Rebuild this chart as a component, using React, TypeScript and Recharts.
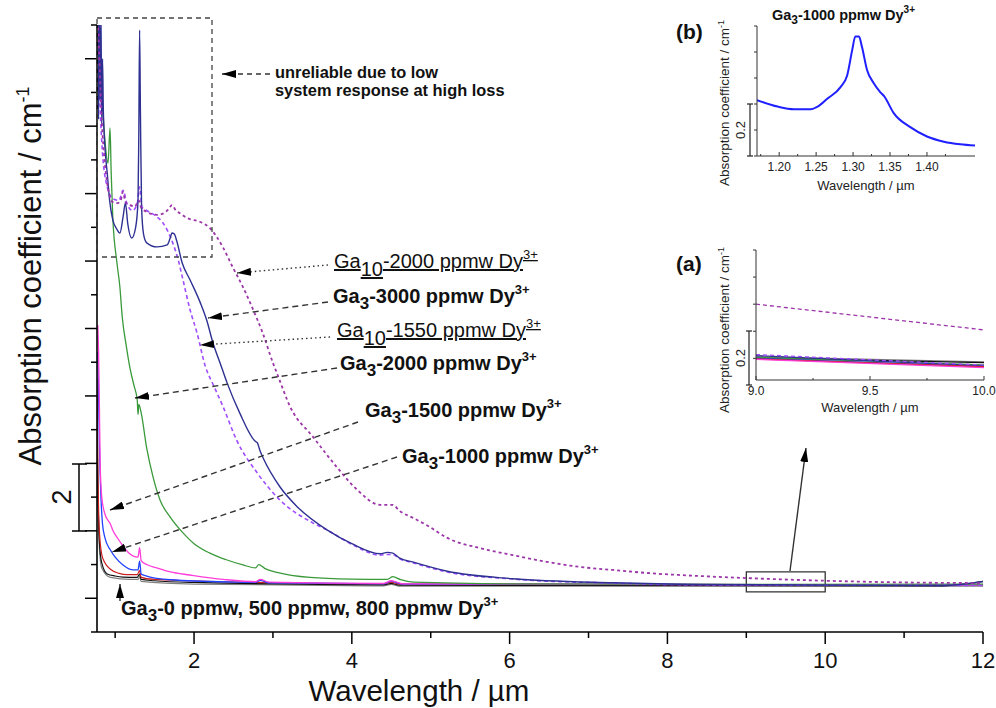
import React from 'react';
import { LineChart, Line, XAxis, YAxis, ReferenceArea } from 'recharts';

type P = [number, number];

const FONT = "'Liberation Sans', Arial, sans-serif";

// main plot: wavelength (µm) vs absorption (cm-1, offset, unlabeled)
const xTicksMain = [1, 2, 3, 4, 5, 6, 7, 8, 9, 10, 11, 12];
const yTicksMain = [-1, 0, 1, 2, 3, 4, 5, 6, 7, 8, 9, 10, 11, 12, 13, 14, 15, 16, 17];

const ga10_2000: P[] = [[0.77, 18], [0.8, 16], [0.83, 14.2], [0.87, 12.9], [0.9, 12.3], [0.94, 11.85], [0.97, 11.75], [1.03, 11.72], [1.07, 11.8], [1.1, 12.05], [1.13, 11.75], [1.19, 11.66], [1.25, 11.62], [1.3, 11.8], [1.33, 11.58], [1.4, 11.46], [1.53, 11.37], [1.62, 11.42], [1.68, 11.55], [1.72, 11.66], [1.77, 11.5], [1.82, 11.42], [1.91, 11.28], [2.08, 11.16], [2.2, 10.98], [2.29, 10.71], [2.37, 10.39], [2.49, 9.82], [2.62, 9.23], [2.75, 8.55], [2.87, 7.87], [3.0, 6.98], [3.05, 6.68], [3.22, 5.67], [3.51, 4.78], [3.81, 3.89], [4.07, 3.21], [4.36, 2.77], [4.52, 2.77], [4.6, 2.6], [4.78, 2.38], [4.99, 2.11], [5.21, 1.79], [5.62, 1.49], [6.04, 1.28], [6.47, 1.08], [6.89, 0.93], [7.31, 0.84], [7.74, 0.75], [8.41, 0.66], [9.0, 0.6], [10.0, 0.52], [11.0, 0.47], [12.0, 0.45]];
const ga10_1550: P[] = [[0.77, 18], [0.8, 15.2], [0.84, 13.2], [0.9, 12.2], [0.97, 11.85], [1.05, 11.8], [1.1, 12.1], [1.15, 11.7], [1.22, 11.5], [1.28, 11.7], [1.31, 12.2], [1.34, 11.6], [1.4, 11.5], [1.53, 11.31], [1.6, 11.15], [1.66, 10.92], [1.73, 10.54], [1.8, 10.03], [1.86, 9.44], [1.95, 8.55], [2.04, 7.85], [2.14, 6.9], [2.25, 6.3], [2.37, 5.67], [2.54, 4.69], [2.8, 3.72], [3.09, 2.91], [3.51, 2.23], [3.69, 2.02], [4.0, 1.6], [4.36, 1.28], [4.45, 1.3], [4.52, 1.3], [4.6, 1.18], [4.78, 1.05], [5.21, 0.78], [6.04, 0.57], [7.31, 0.45], [8.41, 0.4], [12, 0.38]];
const ga3_3000: P[] = [[0.77, 17.5], [0.775, 14.5], [0.78, 17.6], [0.79, 14.2], [0.8, 17.2], [0.81, 14.8], [0.82, 17.5], [0.83, 14], [0.84, 16], [0.85, 14.5], [0.87, 13.4], [0.9, 12.6], [0.93, 11.8], [0.97, 11.22], [1.02, 10.95], [1.06, 10.83], [1.1, 11.3], [1.13, 11.72], [1.16, 11.1], [1.21, 10.68], [1.26, 11.0], [1.29, 11.8], [1.3, 13.8], [1.31, 16.85], [1.32, 14.5], [1.335, 11.6], [1.36, 10.8], [1.4, 10.54], [1.53, 10.42], [1.66, 10.48], [1.7, 10.7], [1.72, 10.83], [1.75, 10.8], [1.78, 10.6], [1.85, 9.94], [1.95, 9.44], [2.08, 8.76], [2.16, 8.25], [2.24, 7.57], [2.33, 6.98], [2.42, 6.38], [2.58, 5.49], [2.78, 4.65], [2.8, 4.62], [2.84, 4.35], [2.87, 4.19], [3.09, 3.3], [3.31, 2.71], [3.69, 2.02], [4.0, 1.62], [4.36, 1.32], [4.45, 1.36], [4.52, 1.34], [4.6, 1.2], [4.78, 1.07], [5.21, 0.8], [6.04, 0.58], [7.31, 0.46], [8.41, 0.41], [11.5, 0.38], [12, 0.5]];
const ga3_2000: P[] = [[0.77, 18], [0.82, 15.5], [0.87, 13.6], [0.91, 12.9], [0.935, 13.95], [0.95, 12.6], [0.97, 11.3], [1.02, 10.0], [1.06, 9.23], [1.09, 8.34], [1.14, 7.5], [1.19, 6.8], [1.24, 6.3], [1.28, 5.88], [1.29, 5.45], [1.3, 5.75], [1.33, 5.5], [1.4, 4.45], [1.48, 3.6], [1.57, 2.91], [1.7, 2.4], [1.86, 1.94], [2.0, 1.62], [2.2, 1.34], [2.4, 1.15], [2.62, 0.99], [2.78, 0.9], [2.82, 1.0], [2.9, 0.88], [3.05, 0.77], [3.47, 0.62], [4.0, 0.57], [4.45, 0.56], [4.52, 0.64], [4.62, 0.55], [4.78, 0.48], [6, 0.43], [9, 0.41], [12, 0.42]];
const ga3_1500: P[] = [[0.78, 8.1], [0.79, 7.3], [0.8, 5.8], [0.81, 4.0], [0.83, 3.0], [0.87, 2.5], [0.94, 2.2], [0.97, 2.02], [1.04, 1.75], [1.1, 1.55], [1.17, 1.35], [1.23, 1.25], [1.29, 1.22], [1.31, 1.5], [1.33, 1.12], [1.4, 1.0], [1.53, 0.9], [1.7, 0.78], [1.95, 0.69], [2.37, 0.56], [2.78, 0.49], [2.84, 0.56], [2.95, 0.48], [4.4, 0.44], [4.5, 0.52], [4.65, 0.43], [12, 0.4]];
const ga3_1000: P[] = [[0.78, 7.3], [0.79, 6.0], [0.8, 4.6], [0.82, 3.0], [0.84, 2.2], [0.87, 1.8], [0.94, 1.43], [1.0, 1.22], [1.1, 0.99], [1.23, 0.84], [1.29, 0.84], [1.31, 1.1], [1.33, 0.72], [1.4, 0.66], [1.7, 0.55], [2.5, 0.48], [2.78, 0.47], [2.84, 0.53], [2.95, 0.46], [4.4, 0.43], [4.5, 0.5], [4.65, 0.42], [12, 0.4]];
const ga3_800: P[] = [[0.77, 6.5], [0.78, 4.0], [0.8, 2.0], [0.83, 1.3], [0.87, 1.05], [0.94, 0.86], [1.05, 0.74], [1.15, 0.7], [1.28, 0.7], [1.31, 0.82], [1.33, 0.62], [1.5, 0.56], [1.95, 0.52], [4.4, 0.43], [4.5, 0.47], [4.6, 0.42], [12, 0.4]];
const ga3_500: P[] = [[0.77, 6.0], [0.78, 3.5], [0.8, 1.7], [0.83, 1.05], [0.9, 0.72], [1.0, 0.66], [1.1, 0.63], [1.28, 0.62], [1.31, 0.72], [1.33, 0.56], [1.5, 0.52], [2.0, 0.47], [4.4, 0.4], [4.5, 0.44], [4.6, 0.39], [11.5, 0.37], [12, 0.5]];
const ga3_0: P[] = [[0.77, 5.5], [0.78, 3.0], [0.8, 1.5], [0.83, 0.9], [0.94, 0.62], [1.19, 0.56], [1.29, 0.56], [1.31, 0.64], [1.33, 0.5], [2.0, 0.42], [4.4, 0.37], [4.5, 0.41], [4.6, 0.36], [12, 0.36]];

// inset (a): 9-10 µm zoom
const xTicksA = [9.0, 9.25, 9.5, 9.75, 10.0];
const yTicksA = [0.08, 0.18, 0.28, 0.38, 0.48];
const a_ga10_2000: P[] = [[9.0, 0.28], [10.0, 0.185]];
const a_ga10_1550: P[] = [[9.0, 0.094], [10.0, 0.055]];
const a_ga3_3000: P[] = [[9.0, 0.09], [10.0, 0.052]];
const a_ga3_2000: P[] = [[9.0, 0.083], [10.0, 0.056]];
const a_ga3_1500: P[] = [[9.0, 0.076], [10.0, 0.046]];
const a_ga3_1000: P[] = [[9.0, 0.08], [10.0, 0.05]];
const a_ga3_800: P[] = [[9.0, 0.078], [10.0, 0.049]];
const a_ga3_500: P[] = [[9.0, 0.081], [10.0, 0.064]];
const a_ga3_0: P[] = [[9.0, 0.086], [10.0, 0.067]];

// inset (b): Ga3-1000 around 1.3 µm
const xTicksB = [1.175, 1.2, 1.225, 1.25, 1.275, 1.3, 1.325, 1.35, 1.375, 1.4, 1.425];
const yTicksB = [0, 0.1, 0.2, 0.3, 0.4, 0.5];
const b_ga3_1000: P[] = [[1.17, 0.215], [1.198, 0.19], [1.22, 0.18], [1.243, 0.18], [1.252, 0.19], [1.265, 0.22], [1.283, 0.265], [1.292, 0.31], [1.299, 0.41], [1.303, 0.46], [1.308, 0.46], [1.312, 0.42], [1.319, 0.33], [1.328, 0.28], [1.337, 0.245], [1.342, 0.23], [1.355, 0.165], [1.378, 0.11], [1.4, 0.075], [1.423, 0.055], [1.445, 0.045], [1.465, 0.04]];

const C = {
  purple: '#9c35a8',
  violet: '#a04dff',
  navy: '#2e3192',
  green: '#3a9a3a',
  magenta: '#ff3ddb',
  blue: '#2244ff',
  red: '#cc1f1f',
  black: '#111111',
  gray: '#808080',
};

const pts = (a: P[]) => a.map(([x, y]) => ({ x, y }));

const mainSeries = [
  { name: 'Ga3-0', data: ga3_0, color: C.gray, dash: undefined, w: 1.2 },
  { name: 'Ga3-500', data: ga3_500, color: C.black, dash: undefined, w: 1.2 },
  { name: 'Ga3-800', data: ga3_800, color: C.red, dash: undefined, w: 1.2 },
  { name: 'Ga3-1000', data: ga3_1000, color: C.blue, dash: undefined, w: 1.3 },
  { name: 'Ga3-1500', data: ga3_1500, color: C.magenta, dash: undefined, w: 1.3 },
  { name: 'Ga3-2000', data: ga3_2000, color: C.green, dash: undefined, w: 1.3 },
  { name: 'Ga10-1550', data: ga10_1550, color: C.violet, dash: '4 3', w: 1.6 },
  { name: 'Ga3-3000', data: ga3_3000, color: C.navy, dash: undefined, w: 1.4 },
  { name: 'Ga10-2000', data: ga10_2000, color: C.purple, dash: '3 3', w: 1.8 },
];

const aSeries = [
  { data: a_ga3_0, color: C.gray, dash: undefined },
  { data: a_ga3_500, color: C.black, dash: undefined },
  { data: a_ga3_2000, color: C.green, dash: undefined },
  { data: a_ga3_3000, color: C.navy, dash: undefined },
  { data: a_ga10_1550, color: C.violet, dash: '4 3' },
  { data: a_ga3_1000, color: C.blue, dash: undefined },
  { data: a_ga3_800, color: C.red, dash: undefined },
  { data: a_ga3_1500, color: C.magenta, dash: undefined },
  { data: a_ga10_2000, color: C.purple, dash: '4 3' },
];

const MainXTick = (p: any) => {
  const v = p.payload.value;
  const major = v % 2 === 0;
  return (
    <g>
      <line x1={p.x} y1={p.y} x2={p.x} y2={p.y + (major ? 12 : 6)} stroke="#000" strokeWidth={1.5} />
      {major && <text x={p.x} y={p.y + 36} textAnchor="middle" fontSize={22} fontFamily={FONT} fill="#111">{v}</text>}
    </g>
  );
};

const MainYTick = (p: any) => {
  const major = p.payload.value % 2 === 0;
  return <line x1={p.x} y1={p.y} x2={p.x - (major ? 12 : 6)} y2={p.y} stroke="#000" strokeWidth={1.5} />;
};

const insetXTick = (step: number, digits: number) => (p: any) => {
  const v = p.payload.value;
  const major = Math.abs(v / step - Math.round(v / step)) < 1e-6;
  return (
    <g>
      <line x1={p.x} y1={p.y} x2={p.x} y2={p.y - (major ? 4 : 2)} stroke="#333" strokeWidth={1} />
      {major && <text x={p.x} y={p.y + 15} textAnchor="middle" fontSize={12} fontFamily={FONT} fill="#222">{v.toFixed(digits)}</text>}
    </g>
  );
};

const InsetYTick = (p: any) => <line x1={p.x} y1={p.y} x2={p.x - 3} y2={p.y} stroke="#333" strokeWidth={1} />;

const GaLabel = ({ x, y, sub, body, bold, underline }: any) => (
  <text x={x} y={y} fontSize={20} fontWeight={bold ? 700 : 400} fontFamily={FONT} fill="#111" textDecoration={underline ? 'underline' : undefined}>
    Ga<tspan dy={underline ? 8 : 6} fontSize={underline ? 20 : 17}>{sub}</tspan>
    <tspan dy={underline ? -8 : -6}>{body} Dy</tspan>
    <tspan dy={-9} fontSize={13}>3+</tspan>
  </text>
);

const Arrow = ({ x1, y1, x2, y2, dash }: any) => (
  <line x1={x1} y1={y1} x2={x2} y2={y2} stroke="#333" strokeWidth={1.4} strokeDasharray={dash} markerEnd="url(#ah)" />
);

export default function App() {
  return (
    <div style={{ position: 'absolute', left: 0, top: 0, width: 996, height: 708, background: '#fff', fontFamily: FONT }}>
      <div style={{ position: 'absolute', left: 0, top: 0 }}>
        <LineChart width={996} height={708} margin={{ top: 25, right: 13, bottom: 36, left: 57 }}>
          <XAxis dataKey="x" type="number" domain={[0.77, 12]} ticks={xTicksMain} interval={0} allowDataOverflow
            tickSize={0} tickMargin={0} tickLine={false} axisLine={{ stroke: '#000', strokeWidth: 1.6 }} tick={MainXTick} height={40} />
          <YAxis type="number" domain={[-1, 17]} ticks={yTicksMain} interval={0} allowDataOverflow width={40}
            tickSize={0} tickMargin={0} tickLine={false} axisLine={{ stroke: '#000', strokeWidth: 1.6 }} tick={MainYTick} />
          <ReferenceArea x1={9} x2={10} y1={0.19} y2={0.78} fill="none" stroke="#333" strokeWidth={1.3} />
          {mainSeries.map(s => (
            <Line key={s.name} data={pts(s.data)} dataKey="y" type="monotone" stroke={s.color} strokeWidth={s.w}
              strokeDasharray={s.dash} dot={false} activeDot={false} isAnimationActive={false} />
          ))}
        </LineChart>
      </div>

      {/* inset (b) */}
      <div style={{ position: 'absolute', left: 700, top: 0 }}>
        <LineChart width={290} height={200} margin={{ top: 26, right: 15, bottom: 14, left: 0 }}>
          <XAxis dataKey="x" type="number" domain={[1.17, 1.465]} ticks={xTicksB} interval={0} allowDataOverflow
            tickSize={0} tickMargin={0} tickLine={false} axisLine={{ stroke: '#333' }} tick={insetXTick(0.05, 2)} height={30} />
          <YAxis type="number" domain={[0, 0.5]} ticks={yTicksB} interval={0} width={57}
            tickSize={0} tickMargin={0} tickLine={false} axisLine={{ stroke: '#333' }} tick={InsetYTick} />
          <Line data={pts(b_ga3_1000)} dataKey="y" type="monotone" stroke="#1f1fff" strokeWidth={2} dot={false} activeDot={false} isAnimationActive={false} />
        </LineChart>
      </div>

      {/* inset (a) */}
      <div style={{ position: 'absolute', left: 700, top: 230 }}>
        <LineChart width={296} height={200} margin={{ top: 20, right: 12, bottom: 20, left: 0 }}>
          <XAxis dataKey="x" type="number" domain={[9, 10]} ticks={xTicksA} interval={0} allowDataOverflow
            tickSize={0} tickMargin={0} tickLine={false} axisLine={{ stroke: '#333' }} tick={insetXTick(0.5, 1)} height={30} />
          <YAxis type="number" domain={[0, 0.48]} ticks={yTicksA} interval={0} width={56}
            tickSize={0} tickMargin={0} tickLine={false} axisLine={{ stroke: '#333' }} tick={InsetYTick} />
          {aSeries.map((s, i) => (
            <Line key={i} data={pts(s.data)} dataKey="y" type="linear" stroke={s.color} strokeWidth={1.3}
              strokeDasharray={s.dash} dot={false} activeDot={false} isAnimationActive={false} />
          ))}
        </LineChart>
      </div>

      <svg width={996} height={708} style={{ position: 'absolute', left: 0, top: 0, pointerEvents: 'none' }}>
        <defs>
          <marker id="ah" viewBox="0 0 14 8" refX="14" refY="4" markerWidth="14" markerHeight="8" orient="auto" markerUnits="userSpaceOnUse">
            <path d="M0,0 L14,4 L0,8 z" fill="#000" />
          </marker>
        </defs>

        {/* axis titles */}
        <text transform="translate(41,276) rotate(-90)" textAnchor="middle" fontSize={31} fontFamily={FONT} fill="#111">
          Absorption coefficient / cm<tspan dy={-12} fontSize={18}>-1</tspan>
        </text>
        <text x={419} y={701} textAnchor="middle" fontSize={29.5} fontFamily={FONT} fill="#111">Wavelength / µm</text>

        {/* scale bar "2" */}
        <line x1={79} y1={464} x2={79} y2={531} stroke="#000" strokeWidth={1.5} />
        <line x1={72} y1={464} x2={87} y2={464} stroke="#000" strokeWidth={1.5} />
        <line x1={72} y1={531} x2={87} y2={531} stroke="#000" strokeWidth={1.5} />
        <text transform="translate(71,497) rotate(-90)" textAnchor="middle" fontSize={27} fontFamily={FONT} fill="#111">2</text>

        {/* unreliable region */}
        <rect x={97} y={18} width={115} height={239} fill="none" stroke="#444" strokeWidth={1.3} strokeDasharray="5 4" />
        <Arrow x1={270} y1={74} x2={222} y2={74} dash="5 4" />
        <text x={275} y={78} fontSize={16.4} fontWeight={700} fontFamily={FONT} fill="#111">unreliable due to low</text>
        <text x={275} y={96} fontSize={16.4} fontWeight={700} fontFamily={FONT} fill="#111">system response at high loss</text>

        {/* series labels */}
        <Arrow x1={328} y1={265} x2={237} y2={273} dash="1.5 3" />
        <GaLabel x={334} y={268} sub="10" body="-2000 ppmw" underline />
        <Arrow x1={328} y1={302} x2={208} y2={318} dash="6 4" />
        <GaLabel x={333} y={303} sub="3" body="-3000 ppmw" bold />
        <Arrow x1={330} y1={337} x2={200} y2={345} dash="1.5 3" />
        <GaLabel x={337} y={337} sub="10" body="-1550 ppmw" underline />
        <Arrow x1={337} y1={368} x2={135} y2={398} dash="6 4" />
        <GaLabel x={340} y={370} sub="3" body="-2000 ppmw" bold />
        <Arrow x1={358} y1={422} x2={110} y2={510} dash="6 4" />
        <GaLabel x={365} y={417} sub="3" body="-1500 ppmw" bold />
        <Arrow x1={397} y1={457} x2={112} y2={552} dash="6 4" />
        <GaLabel x={402} y={463} sub="3" body="-1000 ppmw" bold />
        <Arrow x1={120} y1={601} x2={120} y2={584} dash="3 2" />
        <GaLabel x={121} y={615} sub="3" body="-0 ppmw, 500 ppmw, 800 ppmw" bold />

        {/* box to inset (a) */}
        <Arrow x1={790} y1={571} x2={806} y2={448} />

        {/* inset (b) labels */}
        <text x={676} y={39} fontSize={21} fontWeight={700} fontFamily={FONT} fill="#111">(b)</text>
        <text x={772} y={20} fontSize={14.5} fontWeight={700} fontFamily={FONT} fill="#111">
          Ga<tspan dy={4} fontSize={12}>3</tspan><tspan dy={-4}>-1000 ppmw Dy</tspan><tspan dy={-7} fontSize={10}>3+</tspan>
        </text>
        <text transform="translate(729,103) rotate(-90)" textAnchor="middle" fontSize={13.5} fontFamily={FONT} fill="#222">
          Absorption coefficient / cm<tspan dy={-5} fontSize={9}>-1</tspan>
        </text>
        <line x1={750} y1={104} x2={750} y2={156} stroke="#222" strokeWidth={1.2} />
        <line x1={747} y1={104} x2={753} y2={104} stroke="#222" strokeWidth={1.2} />
        <line x1={747} y1={156} x2={753} y2={156} stroke="#222" strokeWidth={1.2} />
        <text transform="translate(745,130) rotate(-90)" textAnchor="middle" fontSize={13} fontFamily={FONT} fill="#222">0.2</text>
        <text x={866} y={190} textAnchor="middle" fontSize={13} fontFamily={FONT} fill="#222">Wavelength / µm</text>

        {/* inset (a) labels */}
        <text x={676} y={271} fontSize={21} fontWeight={700} fontFamily={FONT} fill="#111">(a)</text>
        <text transform="translate(729,330) rotate(-90)" textAnchor="middle" fontSize={13.5} fontFamily={FONT} fill="#222">
          Absorption coefficient / cm<tspan dy={-5} fontSize={9}>-1</tspan>
        </text>
        <line x1={749} y1={331} x2={749} y2={385} stroke="#222" strokeWidth={1.2} />
        <line x1={746} y1={331} x2={752} y2={331} stroke="#222" strokeWidth={1.2} />
        <line x1={746} y1={385} x2={752} y2={385} stroke="#222" strokeWidth={1.2} />
        <text transform="translate(745,358) rotate(-90)" textAnchor="middle" fontSize={13} fontFamily={FONT} fill="#222">0.2</text>
        <text x={870} y={412} textAnchor="middle" fontSize={13} fontFamily={FONT} fill="#222">Wavelength / µm</text>
      </svg>
    </div>
  );
}
